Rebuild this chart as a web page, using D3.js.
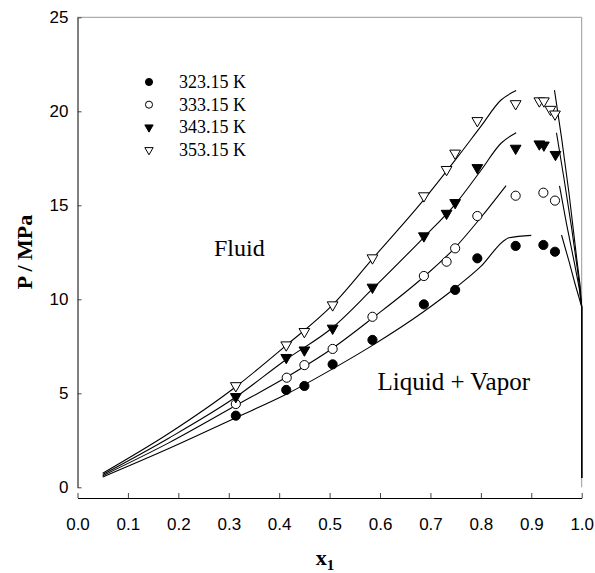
<!DOCTYPE html>
<html>
<head>
<meta charset="utf-8">
<script src="https://cdn.jsdelivr.net/npm/d3@7"></script>
<style>
  body { margin: 0; background: #fff; }
  svg { display: block; }
</style>
</head>
<body>
<div id="chart"></div>
<script>
// measured points (x1, P/MPa)
const temps = ["323.15 K", "333.15 K", "343.15 K", "353.15 K"];

const x323 = [0.314, 0.414, 0.45, 0.506, 0.585, 0.687, 0.749, 0.793, 0.869, 0.924, 0.947];
const p323 = [3.81, 5.18, 5.39, 6.54, 7.84, 9.73, 10.5, 12.18, 12.84, 12.89, 12.53];
const x333 = [0.314, 0.415, 0.45, 0.506, 0.585, 0.687, 0.732, 0.749, 0.793, 0.869, 0.924, 0.947];
const p333 = [4.43, 5.83, 6.5, 7.36, 9.07, 11.24, 12.0, 12.71, 14.43, 15.51, 15.67, 15.25];
const x343 = [0.314, 0.414, 0.45, 0.506, 0.585, 0.687, 0.732, 0.749, 0.793, 0.869, 0.916, 0.925, 0.948];
const p343 = [4.82, 6.9, 7.3, 8.46, 10.64, 13.37, 14.57, 15.14, 17.0, 18.03, 18.26, 18.2, 17.7];
const x353 = [0.314, 0.414, 0.45, 0.506, 0.585, 0.687, 0.732, 0.749, 0.793, 0.869, 0.916, 0.925, 0.938, 0.947];
const p353 = [5.4, 7.57, 8.28, 9.7, 12.2, 15.5, 16.9, 17.77, 19.5, 20.4, 20.55, 20.55, 20.1, 19.85];

// model curves, bubble side
const bx323 = [0.05, 0.18, 0.314, 0.414, 0.506, 0.585, 0.687, 0.749, 0.80, 0.85, 0.856, 0.90];
const bp323 = [0.55, 2.05, 3.7, 4.95, 6.3, 7.55, 9.35, 10.6, 11.75, 13.2, 13.27, 13.4];
const bx333 = [0.05, 0.18, 0.314, 0.414, 0.506, 0.585, 0.687, 0.749, 0.80, 0.85];
const bp333 = [0.62, 2.35, 4.35, 5.85, 7.4, 9.0, 11.2, 12.75, 14.35, 16.05];
const bx343 = [0.05, 0.18, 0.314, 0.414, 0.506, 0.585, 0.687, 0.749, 0.80, 0.84, 0.87];
const bp343 = [0.68, 2.6, 4.8, 6.8, 8.5, 10.55, 13.3, 15.05, 16.85, 18.3, 18.86];
const bx353 = [0.05, 0.18, 0.314, 0.414, 0.506, 0.585, 0.687, 0.749, 0.80, 0.84, 0.87];
const bp353 = [0.75, 2.85, 5.35, 7.55, 9.7, 12.15, 15.3, 17.4, 19.2, 20.6, 21.1];

// model curves, dew side
const dx323 = [0.96, 0.975, 0.987, 1.0, 1.0];
const dp323 = [13.42, 12.0, 10.8, 9.6, 0.5];
const dx333 = [0.956, 0.97, 0.985, 0.995, 1.0, 1.0];
const dp333 = [16.03, 14.0, 12.0, 10.6, 9.6, 0.5];
const dx343 = [0.95, 0.965, 0.98, 0.992, 1.0, 1.0];
const dp343 = [18.86, 16.4, 13.8, 11.5, 9.6, 0.5];
const dx353 = [0.946, 0.96, 0.975, 0.99, 0.997, 1.0, 1.0];
const dp353 = [21.13, 18.6, 15.6, 12.2, 10.7, 9.6, 0.5];

const xTicks = [0, 0.1, 0.2, 0.3, 0.4, 0.5, 0.6, 0.7, 0.8, 0.9, 1.0];
const yTicks = [0, 5, 10, 15, 20, 25];

const width = 595, height = 573;
const plotL = 77.5, plotR = 581.7, plotT = 17.3, plotB = 487.3;
const xAxisY = 498;

const svg = d3.select("#chart").append("svg")
  .attr("width", width)
  .attr("height", height);

const x = d3.scaleLinear().domain([0, 1]).range([plotL, plotR]);
const y = d3.scaleLinear().domain([0, 25]).range([plotB, plotT]);

const zip = (xs, ps) => xs.map((v, i) => [v, ps[i]]);

// frame (top + right, light)
svg.append("path")
  .attr("d", `M${plotL},${plotT}H${plotR}V${plotB}`)
  .attr("fill", "none")
  .attr("stroke", "#999")
  .attr("stroke-width", 1);

// x axis, offset below the plot
const xAxis = d3.axisBottom(x)
  .tickValues(xTicks)
  .tickFormat(d3.format(".1f"))
  .tickSizeInner(-5)
  .tickSizeOuter(0)
  .tickPadding(20);
const gx = svg.append("g")
  .attr("transform", `translate(0,${xAxisY})`)
  .call(xAxis);

// y axis
const yAxis = d3.axisLeft(y)
  .tickValues(yTicks)
  .tickFormat(d3.format("d"))
  .tickSizeInner(-4)
  .tickSizeOuter(0)
  .tickPadding(9);
const gy = svg.append("g")
  .attr("transform", `translate(${plotL},0)`)
  .call(yAxis);

[gx, gy].forEach(g => {
  g.select(".domain").attr("stroke", "#000");
  g.selectAll(".tick line").attr("stroke", "#444");
  g.selectAll(".tick text")
    .attr("font-family", "Liberation Sans, Arial, sans-serif")
    .attr("font-size", "17px")
    .attr("fill", "#000");
});

// axis titles
svg.append("text")
  .attr("transform", `translate(32,252) rotate(-90)`)
  .attr("text-anchor", "middle")
  .attr("font-family", "Liberation Serif, Times New Roman, serif")
  .attr("font-weight", "bold")
  .attr("font-size", "22px")
  .text("P / MPa");

const xt = svg.append("text")
  .attr("x", 325)
  .attr("y", 565)
  .attr("text-anchor", "middle")
  .attr("font-family", "Liberation Serif, Times New Roman, serif")
  .attr("font-weight", "bold")
  .attr("font-size", "22px");
xt.append("tspan").text("x");
xt.append("tspan").attr("font-size", "15px").attr("dy", 5).text("1");

// curves
const bubble = [zip(bx323, bp323), zip(bx333, bp333), zip(bx343, bp343), zip(bx353, bp353)];
const dew = [zip(dx323, dp323), zip(dx333, dp333), zip(dx343, dp343), zip(dx353, dp353)];

svg.append("g").selectAll("path.bubble")
  .data(bubble)
  .enter().append("path")
  .attr("class", "bubble")
  .attr("fill", "none")
  .attr("stroke", "#000")
  .attr("stroke-width", 1.1)
  .attr("d", d3.line().x(d => x(d[0])).y(d => y(d[1])).curve(d3.curveMonotoneX));

svg.append("g").selectAll("path.dew")
  .data(dew)
  .enter().append("path")
  .attr("class", "dew")
  .attr("fill", "none")
  .attr("stroke", "#000")
  .attr("stroke-width", 1.1)
  .attr("d", d3.line().x(d => x(d[0])).y(d => y(d[1])));

// markers
const styles = [
  { shape: "circle", fill: "#000" },
  { shape: "circle", fill: "#fff" },
  { shape: "tri", fill: "#000" },
  { shape: "tri", fill: "#fff" }
];
const series = [zip(x323, p323), zip(x333, p333), zip(x343, p343), zip(x353, p353)];

function marker(g, st, size) {
  if (st.shape === "circle") {
    g.append("path")
      .attr("d", d3.symbol(d3.symbolCircle, 66 * size)())
      .attr("fill", st.fill).attr("stroke", "#000").attr("stroke-width", 1);
  } else {
    g.append("path")
      .attr("d", d3.symbol(d3.symbolTriangle, 50 * size)())
      .attr("transform", "rotate(180)")
      .attr("fill", st.fill).attr("stroke", "#000").attr("stroke-width", 1);
  }
}

series.forEach((pts, i) => {
  pts.forEach(p => {
    const g = svg.append("g").attr("transform", `translate(${x(p[0])},${y(p[1])})`);
    marker(g, styles[i], 1);
  });
});

// legend
const legY = d3.scaleLinear().domain([0, 3]).range([82, 150]);
temps.forEach((t, i) => {
  const g = svg.append("g").attr("transform", `translate(149,${legY(i)})`);
  marker(g, styles[i], 0.6);
  svg.append("text")
    .attr("x", 179)
    .attr("y", legY(i) + 6)
    .attr("font-family", "Liberation Serif, Times New Roman, serif")
    .attr("font-size", "18px")
    .text(t);
});

// region labels
svg.append("text")
  .attr("x", 214).attr("y", 256)
  .attr("font-family", "Liberation Serif, Times New Roman, serif")
  .attr("font-size", "24px")
  .text("Fluid");

svg.append("text")
  .attr("x", 530).attr("y", 390)
  .attr("text-anchor", "end")
  .attr("font-family", "Liberation Serif, Times New Roman, serif")
  .attr("font-size", "25px")
  .text("Liquid + Vapor");
</script>
</body>
</html>
